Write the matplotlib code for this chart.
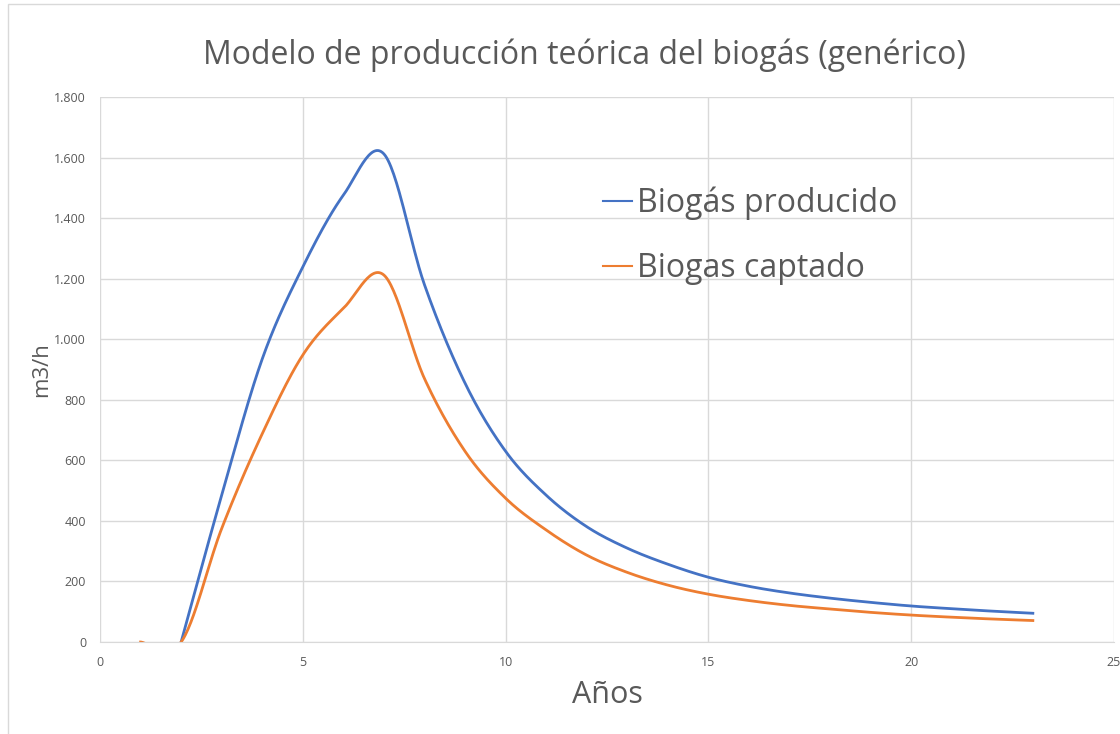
import numpy as np
import matplotlib.pyplot as plt
from matplotlib.ticker import FuncFormatter, MultipleLocator
from matplotlib.patches import Rectangle

# Data (m3/h per year)
years_prod = [2, 3, 4, 5, 6, 7, 8, 9, 10, 11, 12, 13, 14, 15, 16, 17, 18, 19, 20, 21, 22, 23]
biogas_producido = [0, 485, 935, 1239, 1476, 1612, 1180, 855, 630, 485, 381, 310, 257, 214,
                    184, 162, 145, 131, 119, 110, 102, 95]
years_capt = [1, 2, 3, 4, 5, 6, 7, 8, 9, 10, 11, 12, 13, 14, 15, 16, 17, 18, 19, 20, 21, 22, 23]
biogas_captado = [0, 0, 375, 688, 948, 1102, 1212, 870, 630, 475, 370, 287, 230, 188, 158,
                  137, 121, 109, 98, 89, 82, 76, 71]

title = 'Modelo de producción teórica del biogás (genérico)'
text_color = '#595959'


def smooth(x, y, n=30):
    # Excel-like smoothed line: cubic Bezier with Catmull-Rom control points
    x = np.asarray(x, float)
    y = np.asarray(y, float)
    px = np.concatenate([[x[0]], x, [x[-1]]])
    py = np.concatenate([[y[0]], y, [y[-1]]])
    xs, ys = [], []
    t = np.linspace(0, 1, n)
    for i in range(1, len(px) - 2):
        p0 = np.array([px[i], py[i]])
        p3 = np.array([px[i + 1], py[i + 1]])
        p1 = p0 + (p3 - np.array([px[i - 1], py[i - 1]])) / 6
        p2 = p3 - (np.array([px[i + 2], py[i + 2]]) - p0) / 6
        b = ((1 - t) ** 3)[:, None] * p0 + (3 * (1 - t) ** 2 * t)[:, None] * p1 \
            + (3 * (1 - t) * t ** 2)[:, None] * p2 + (t ** 3)[:, None] * p3
        xs.extend(b[:, 0])
        ys.extend(b[:, 1])
    return np.array(xs), np.array(ys)


plt.rcParams['font.family'] = ['Open Sans', 'DejaVu Sans']

fig = plt.figure(figsize=(11.2, 7.34), dpi=100)
ax = fig.add_axes([0.0893, 0.1253, 0.9053, 0.7425])

xp, yp = smooth(years_prod, biogas_producido)
xc, yc = smooth(years_capt, biogas_captado)
ax.plot(xp, yp, color='#4472C4', lw=2, label='Biogás producido')
ax.plot(xc, yc, color='#ED7D31', lw=2, label='Biogas captado')

ax.set_xlim(0, 25)
ax.set_ylim(0, 1800)
ax.xaxis.set_major_locator(MultipleLocator(5))
ax.yaxis.set_major_locator(MultipleLocator(200))
ax.yaxis.set_major_formatter(FuncFormatter(lambda v, p: f'{int(v):,}'.replace(',', '.')))
ax.grid(True, color='#d9d9d9', lw=1)
ax.set_axisbelow(True)
for s in ['top', 'right', 'left']:
    ax.spines[s].set_visible(False)
ax.spines['bottom'].set_color('#d9d9d9')
ax.tick_params(length=0, labelsize=9, colors=text_color, pad=10)

fig.text(584 / 1120, 1 - 55 / 734, title, fontsize=23, color=text_color,
         ha='center', va='center')
ax.set_xlabel('Años', fontsize=22, color=text_color, labelpad=8)
ax.set_ylabel('m3/h', fontsize=16, color=text_color, labelpad=1.5)

leg = ax.legend(loc='upper left', bbox_to_anchor=(0.468, 0.889), frameon=False, fontsize=23,
                handlelength=0.9, handletextpad=0.15, labelspacing=1.0,
                labelcolor=text_color)
for line in leg.get_lines():
    line.set_linewidth(1.5)

fig.patches.append(Rectangle((0.007, -0.01), 1.0, 1.004, transform=fig.transFigure,
                             fill=False, edgecolor='#d9d9d9', lw=1))

fig.savefig('out.png', dpi=100)
